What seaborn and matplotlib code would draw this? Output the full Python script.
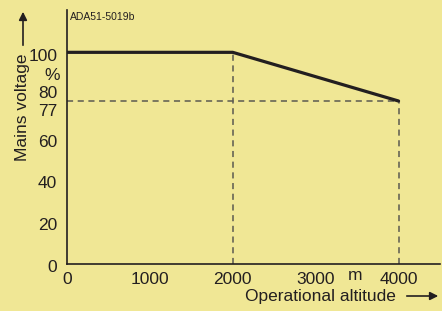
import matplotlib
matplotlib.use("Agg")
import matplotlib.pyplot as plt
import matplotlib.transforms as mtransforms
import pandas as pd
import seaborn as sns

# derating curve: mains voltage (%) vs operational altitude (m)
altitude = [0, 2000, 4000]
voltage = [100, 100, 77]
x_ticks = [0, 1000, 2000, 3000, 4000]
y_ticks = [0, 20, 40, 60, 77, 80, 100]

BG = "#f0e795"
INK = "#231f20"

sns.set_theme(style="white")
plt.rcParams["font.family"] = ["Liberation Sans", "DejaVu Sans"]

fig = plt.figure(figsize=(4.42, 3.11), dpi=100, facecolor=BG)
ax = fig.add_axes([67 / 442, 47 / 311, 373 / 442, 254 / 311])
ax.set_facecolor(BG)

df = pd.DataFrame({"altitude": altitude, "voltage": voltage})

# guide lines
dash = dict(ls=(0, (4, 3)), lw=1.1, color="#5a5a50", zorder=2)
ax.plot([0, altitude[2]], [voltage[2], voltage[2]], **dash)
ax.plot([altitude[1], altitude[1]], [0, voltage[1]], **dash)
ax.plot([altitude[2], altitude[2]], [0, voltage[2]], **dash)

sns.lineplot(data=df, x="altitude", y="voltage", ax=ax, color=INK, lw=2.3, zorder=3)

ax.set_xlim(0, 4500)
ax.set_ylim(0, 120)
ax.set_xticks(x_ticks)
ax.set_yticks(y_ticks)
ax.set_xticklabels([str(v) for v in x_ticks])
ax.set_yticklabels([str(v) for v in y_ticks])
ax.tick_params(axis="both", direction="in", length=5, width=1, color=INK,
               labelsize=12.5, labelcolor=INK, pad=6)
ax.tick_params(axis="y", pad=7)
ax.set_xlabel("")
ax.set_ylabel("")
for s in ["top", "right"]:
    ax.spines[s].set_visible(False)
for s in ["left", "bottom"]:
    ax.spines[s].set_color(INK)
    ax.spines[s].set_linewidth(1.2)

# nudge y labels so 77 and 80 don't collide
shift_px = {0: -2, 20: -2, 40: -3, 60: -4, 77: -9, 80: 3, 100: -3}
for lab, val in zip(ax.get_yticklabels(), y_ticks):
    off = mtransforms.ScaledTranslation(0, shift_px[val] / 100, fig.dpi_scale_trans)
    lab.set_transform(lab.get_transform() + off)

# annotations
fig.text(70 / 442, 1 - 17 / 311, "ADA51-5019b", fontsize=7.5, color=INK, va="center")
fig.text(52 / 442, 1 - 75 / 311, "%", fontsize=12.5, color=INK, ha="center", va="center")
fig.text(355 / 442, 1 - 275 / 311, "m", fontsize=12.5, color=INK, ha="center", va="center")
fig.text(23 / 442, 1 - 107 / 311, "Mains voltage", fontsize=12.5, color=INK,
         rotation=90, ha="center", va="center")
fig.text(320 / 442, 1 - 297 / 311, "Operational altitude", fontsize=12.5, color=INK,
         ha="center", va="center")
ax.annotate("", xy=(23 / 442, 1 - 9 / 311), xytext=(23 / 442, 1 - 48 / 311),
            xycoords="figure fraction",
            arrowprops=dict(arrowstyle="-|>", color=INK, lw=1.2, mutation_scale=12))
ax.annotate("", xy=(441 / 442, 1 - 296 / 311), xytext=(404 / 442, 1 - 296 / 311),
            xycoords="figure fraction",
            arrowprops=dict(arrowstyle="-|>", color=INK, lw=1.2, mutation_scale=12))

fig.savefig("out.png", dpi=100, facecolor=BG)
